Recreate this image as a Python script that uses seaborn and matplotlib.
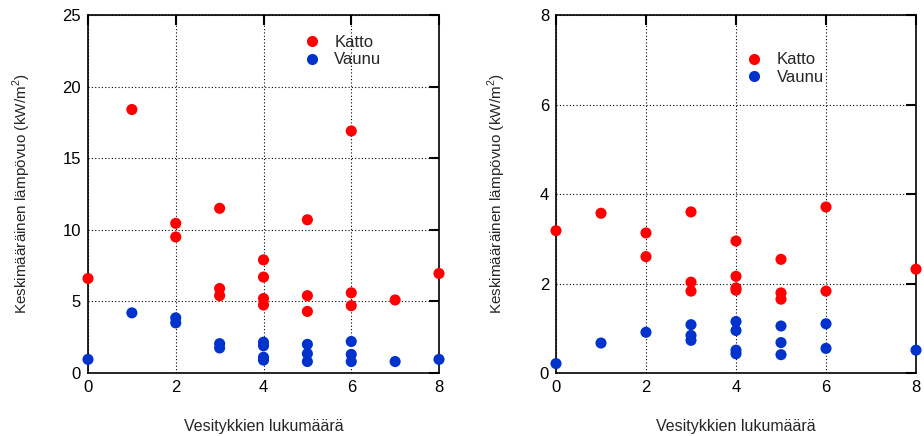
import matplotlib
matplotlib.use("Agg")
import matplotlib.pyplot as plt
import seaborn as sns
import pandas as pd

# Left panel: peak-area average heat flux
left_katto_x = [0, 1, 2, 2, 3, 3, 3, 4, 4, 4, 4, 5, 5, 5, 6, 6, 6, 7, 8]
left_katto_y = [6.6, 18.4, 10.45, 9.5, 11.5, 5.9, 5.4, 7.9, 6.7, 5.2, 4.75, 10.7, 5.4, 4.3, 16.9, 5.6, 4.7, 5.1, 6.95]
left_vaunu_x = [0, 1, 2, 2, 3, 3, 4, 4, 4, 4, 5, 5, 5, 6, 6, 6, 7, 8]
left_vaunu_y = [0.95, 4.2, 3.85, 3.5, 2.05, 1.75, 2.15, 1.9, 1.1, 0.9, 2.0, 1.35, 0.8, 2.2, 1.3, 0.8, 0.8, 0.95]

# Right panel: whole-duration average heat flux
right_katto_x = [0, 1, 2, 2, 3, 3, 3, 4, 4, 4, 4, 5, 5, 5, 6, 6, 8]
right_katto_y = [3.18, 3.57, 3.13, 2.6, 3.6, 2.03, 1.83, 2.95, 2.16, 1.9, 1.85, 2.54, 1.79, 1.65, 3.71, 1.83, 2.32]
right_vaunu_x = [0, 1, 2, 3, 3, 3, 4, 4, 4, 4, 5, 5, 5, 6, 6, 8]
right_vaunu_y = [0.21, 0.67, 0.91, 1.08, 0.84, 0.73, 1.15, 0.95, 0.51, 0.43, 1.05, 0.68, 0.41, 1.1, 0.55, 0.51]

series_names = ["Katto", "Vaunu"]
palette = {"Katto": "#ff0000", "Vaunu": "#0033cc"}

x_label = "Vesitykkien lukumäärä"
y_label = "Keskimääräinen lämpövuo (kW/m$^2$)"


def frame(kx, ky, vx, vy):
    return pd.DataFrame({
        "x": kx + vx,
        "y": ky + vy,
        "sarja": [series_names[0]] * len(kx) + [series_names[1]] * len(vx),
    })


sns.set_theme(style="white")
plt.rcParams["font.family"] = ["Liberation Sans", "DejaVu Sans"]
plt.rcParams["mathtext.fontset"] = "custom"
plt.rcParams["mathtext.rm"] = "Liberation Sans"

fig = plt.figure(figsize=(9.24, 4.36), dpi=100)
ax1 = fig.add_axes([88 / 924, 1 - 373 / 436, (439 - 88) / 924, (373 - 15) / 436])
ax2 = fig.add_axes([556 / 924, 1 - 373 / 436, (916 - 556) / 924, (373 - 15) / 436])

panels = [
    (ax1, frame(left_katto_x, left_katto_y, left_vaunu_x, left_vaunu_y), 25, 5, (0.571, 0.963), -0.157),
    (ax2, frame(right_katto_x, right_katto_y, right_vaunu_x, right_vaunu_y), 8, 2, (0.485, 0.914), -0.133),
]

for ax, df, ymax, ystep, legpos, ylab_x in panels:
    sns.scatterplot(data=df, x="x", y="y", hue="sarja", palette=palette,
                    s=64, edgecolor="none", linewidth=0, ax=ax, clip_on=False, zorder=5)
    ax.set_xlim(0, 8)
    ax.set_ylim(0, ymax)
    ax.set_xticks(range(0, 9, 2))
    ax.set_yticks(range(0, ymax + 1, ystep))
    ax.grid(True, color="black", linestyle=(0, (1, 2)), linewidth=0.8)
    ax.set_axisbelow(True)
    for sp in ax.spines.values():
        sp.set_color("black")
        sp.set_linewidth(1.2)
        sp.set_visible(True)
    ax.tick_params(direction="in", length=7, width=1.5, top=True, right=True,
                   labelsize=12, colors="black", pad=5)
    ax.set_xlabel(x_label, fontsize=11.5)
    ax.set_ylabel(y_label, fontsize=11)
    ax.xaxis.set_label_coords(0.5, -0.129)
    ax.yaxis.set_label_coords(ylab_x, 0.5)
    leg = ax.legend(loc="upper left", bbox_to_anchor=legpos, frameon=False,
                    fontsize=12, handletextpad=0.36, labelspacing=0.15,
                    borderaxespad=0, markerscale=1.0)
    leg.set_title(None)

fig.savefig("out.png", dpi=100)
